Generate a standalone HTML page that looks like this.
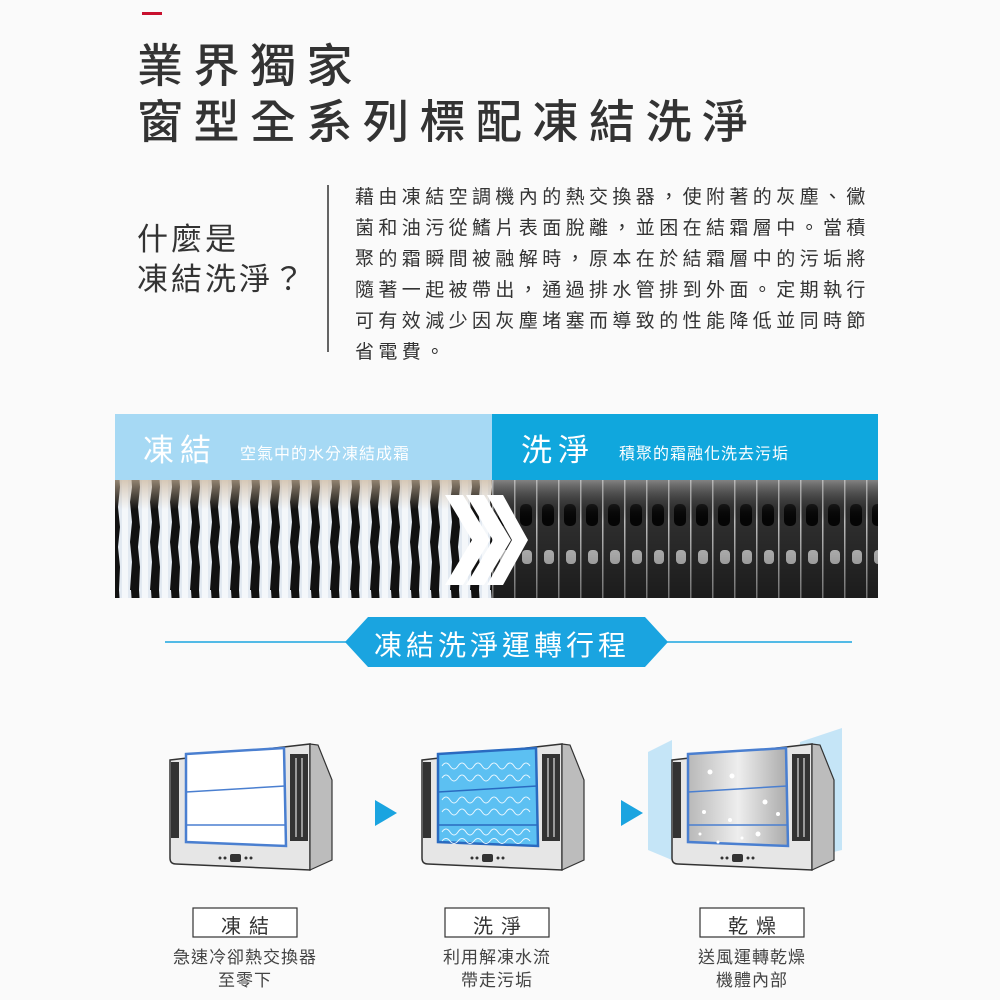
<!DOCTYPE html>
<html><head><meta charset="utf-8"><style>
html,body{margin:0;padding:0;width:1000px;height:1000px;overflow:hidden;background:#fafafa}
body{position:relative;font-family:"Liberation Sans","Noto Sans CJK TC",sans-serif;color:#333}
.a{position:absolute;white-space:nowrap}
</style></head><body>
<svg class="a" style="left:0;top:0" width="1000" height="1000">
<defs>
<pattern id="frost" x="115" width="20" height="118" patternUnits="userSpaceOnUse">
<rect width="20" height="118" fill="#111"/>
<path d="M4,0 L16,0 L17,15 L15,30 L17,50 L15,70 L17,90 L15,118 L4,118 L5,95 L3,75 L5,55 L3,35 L5,15Z" fill="#e2e9f1"/>
<path d="M7,0 L13,0 L13,118 L7,118Z" fill="#f4f7fa"/>
</pattern>
<linearGradient id="beige" x1="0" y1="0" x2="0" y2="1"><stop offset="0" stop-color="#c9b49a" stop-opacity=".7"/><stop offset=".25" stop-color="#c9b49a" stop-opacity="0"/></linearGradient>
<pattern id="fins" x="492" width="22" height="118" patternUnits="userSpaceOnUse">
<rect width="22" height="118" fill="#2e2e2e"/>
<rect x="0" width="1.5" height="118" fill="#bbb"/>
<rect x="6" y="32" width="12" height="22" rx="5" fill="#050505"/>
<rect x="8" y="78" width="10" height="14" rx="4" fill="#c8c8c8"/>
</pattern>
<linearGradient id="dk" x1="0" y1="0" x2="0" y2="1"><stop offset="0" stop-color="#bbb" stop-opacity=".6"/><stop offset=".35" stop-color="#000" stop-opacity="0"/><stop offset="1" stop-color="#000" stop-opacity=".4"/></linearGradient>
<linearGradient id="metal" x1="0" y1="0" x2="1" y2="0"><stop offset="0" stop-color="#b8b8b8"/><stop offset=".5" stop-color="#eee"/><stop offset="1" stop-color="#aaa"/></linearGradient>
<g id="ac">
<path d="M2,16 L142,0 L142,126 L8,120 Q2,120 2,114 Z" fill="#e6e6e6" stroke="#333" stroke-width="1.5"/>
<path d="M142,0 L150,1 L164,36 L164,116 L142,126 Z" fill="#bcbcbc" stroke="#333" stroke-width="1.2"/>
<rect x="3" y="18" width="8" height="76" fill="#333"/>
<rect x="122" y="10" width="18" height="87" fill="#333"/>
<rect x="127" y="14" width="2" height="79" fill="#999"/><rect x="133" y="14" width="2" height="79" fill="#999"/>
<circle cx="52" cy="114" r="1.5" fill="#333"/><circle cx="57" cy="114" r="1.5" fill="#333"/>
<rect x="62" y="110" width="11" height="8" rx="2" fill="#333"/>
<circle cx="78" cy="114" r="1.5" fill="#333"/><circle cx="83" cy="114" r="1.5" fill="#333"/>
</g>
</defs>
<rect x="142" y="12" width="20" height="3" fill="#c8102e"/>
<line x1="328" y1="185" x2="328" y2="352" stroke="#333" stroke-width="1.5"/>
<rect x="115" y="414" width="377" height="66" fill="#a6d9f4"/>
<rect x="492" y="414" width="386" height="66" fill="#10a7dd"/>
<rect x="115" y="480" width="377" height="118" fill="url(#frost)"/>
<rect x="115" y="480" width="377" height="118" fill="url(#beige)"/>
<rect x="492" y="480" width="386" height="118" fill="url(#fins)"/>
<rect x="492" y="480" width="386" height="118" fill="url(#dk)"/>
<g fill="#fff">
<path d="M445,495 L463,495 L490,540 L463,585 L445,585 L472,540Z"/>
<path d="M466,495 L484,495 L511,540 L484,585 L466,585 L493,540Z"/>
<path d="M487,495 L503,495 L528,540 L503,585 L487,585 L512,540Z"/>
</g>
<line x1="165" y1="642" x2="852" y2="642" stroke="#1aa4e0" stroke-width="1.5"/>
<path d="M368,617 L645,617 L668,642 L645,667 L368,667 L345,642Z" fill="#1aa4e0"/>
<g transform="translate(168,744)"><use href="#ac"/>
<path d="M18,10 L116,4 L118,102 L18,98Z" fill="#fff" stroke="#4a7fd0" stroke-width="2.5"/>
<line x1="18" y1="48" x2="117" y2="42" stroke="#4a7fd0" stroke-width="1.5"/><line x1="18" y1="81" x2="118" y2="81" stroke="#4a7fd0" stroke-width="1.5"/></g>
<g transform="translate(420,744)"><use href="#ac"/>
<path d="M18,10 L116,4 L118,102 L18,98Z" fill="#5cc0f2" stroke="#2a6ac0" stroke-width="2.5"/>
<line x1="18" y1="48" x2="117" y2="42" stroke="#2a6ac0" stroke-width="1.5"/><line x1="18" y1="81" x2="118" y2="81" stroke="#2a6ac0" stroke-width="1.5"/>
<g fill="none" stroke="#e8f6ff" stroke-width="1">
<path d="M22,22 q4,-6 8,0 t8,0 t8,0 t8,0 t8,0 t8,0 t8,0 t8,0 t8,0 t8,0 t8,0"/><path d="M22,34 q4,-6 8,0 t8,0 t8,0 t8,0 t8,0 t8,0 t8,0 t8,0 t8,0 t8,0 t8,0"/>
<path d="M22,56 q4,-6 8,0 t8,0 t8,0 t8,0 t8,0 t8,0 t8,0 t8,0 t8,0 t8,0 t8,0"/><path d="M22,68 q4,-6 8,0 t8,0 t8,0 t8,0 t8,0 t8,0 t8,0 t8,0 t8,0 t8,0 t8,0"/>
<path d="M22,88 q4,-6 8,0 t8,0 t8,0 t8,0 t8,0 t8,0 t8,0 t8,0 t8,0 t8,0 t8,0"/><path d="M22,97 q4,-5 8,0 t8,0 t8,0 t8,0 t8,0 t8,0 t8,0 t8,0 t8,0 t8,0 t8,0"/></g></g>
<polygon points="375,800 375,826 397,813" fill="#1aa4e0"/>
<polygon points="621,800 621,826 643,813" fill="#1aa4e0"/>
<polygon points="648,752 672,740 672,860 648,850" fill="#b8e0f6" opacity=".8"/>
<polygon points="800,742 842,728 842,850 800,860" fill="#b8e0f6" opacity=".8"/>
<g transform="translate(670,744)"><use href="#ac"/>
<path d="M18,10 L116,4 L118,102 L18,98Z" fill="url(#metal)" stroke="#4a7fd0" stroke-width="2.5"/>
<line x1="18" y1="48" x2="117" y2="42" stroke="#4a7fd0" stroke-width="1.5"/><line x1="18" y1="81" x2="118" y2="81" stroke="#4a7fd0" stroke-width="1.5"/>
<g fill="#fff"><circle cx="40" cy="28" r="2.5"/><circle cx="62" cy="32" r="2.5"/><circle cx="95" cy="58" r="2.5"/><circle cx="34" cy="68" r="2"/><circle cx="60" cy="76" r="2"/><circle cx="88" cy="90" r="2.5"/><circle cx="72" cy="94" r="1.5"/><circle cx="48" cy="98" r="1.5"/><circle cx="30" cy="90" r="1.5"/><circle cx="108" cy="70" r="2"/></g></g>
<g fill="#fff" stroke="#333" stroke-width="1.2"><rect x="193" y="908" width="104" height="29"/><rect x="445" y="908" width="104" height="29"/><rect x="700" y="908" width="104" height="29"/></g>
</svg>
<div class="a" style="left:137px;top:38px;font-size:46px;letter-spacing:10.5px;line-height:56px;color:#333;font-weight:500">業界獨家<br>窗型全系列標配凍結洗淨</div>
<div class="a" style="left:137px;top:220px;font-size:31px;letter-spacing:3px;line-height:40px">什麼是<br>凍結洗淨？</div>
<div class="a" style="left:355px;top:182px;font-size:19px;letter-spacing:4.4px;line-height:31px">藉由凍結空調機內的熱交換器，使附著的灰塵、黴<br>菌和油污從鰭片表面脫離，並困在結霜層中。當積<br>聚的霜瞬間被融解時，原本在於結霜層中的污垢將<br>隨著一起被帶出，通過排水管排到外面。定期執行<br>可有效減少因灰塵堵塞而導致的性能降低並同時節<br>省電費。</div>
<div class="a" style="left:143px;top:425px;font-size:31px;letter-spacing:6px;color:#fff">凍結</div>
<div class="a" style="left:240px;top:440px;font-size:16px;letter-spacing:1px;color:#fff">空氣中的水分凍結成霜</div>
<div class="a" style="left:521px;top:425px;font-size:31px;letter-spacing:6px;color:#fff">洗淨</div>
<div class="a" style="left:619px;top:440px;font-size:16px;letter-spacing:1px;color:#fff">積聚的霜融化洗去污垢</div>
<div class="a" style="left:374px;top:624px;font-size:28px;letter-spacing:4px;color:#fff">凍結洗淨運轉行程</div>
<div class="a" style="left:193px;top:910px;width:104px;text-align:center;font-size:20px;letter-spacing:8px;text-indent:8px">凍結</div>
<div class="a" style="left:445px;top:910px;width:104px;text-align:center;font-size:20px;letter-spacing:8px;text-indent:8px">洗淨</div>
<div class="a" style="left:700px;top:910px;width:104px;text-align:center;font-size:20px;letter-spacing:8px;text-indent:8px">乾燥</div>
<div class="a" style="left:145px;top:946px;width:200px;text-align:center;font-size:17px;line-height:23px;letter-spacing:1px;color:#444">急速冷卻熱交換器<br>至零下</div>
<div class="a" style="left:397px;top:946px;width:200px;text-align:center;font-size:17px;line-height:23px;letter-spacing:1px;color:#444">利用解凍水流<br>帶走污垢</div>
<div class="a" style="left:652px;top:946px;width:200px;text-align:center;font-size:17px;line-height:23px;letter-spacing:1px;color:#444">送風運轉乾燥<br>機體內部</div>
</body></html>
